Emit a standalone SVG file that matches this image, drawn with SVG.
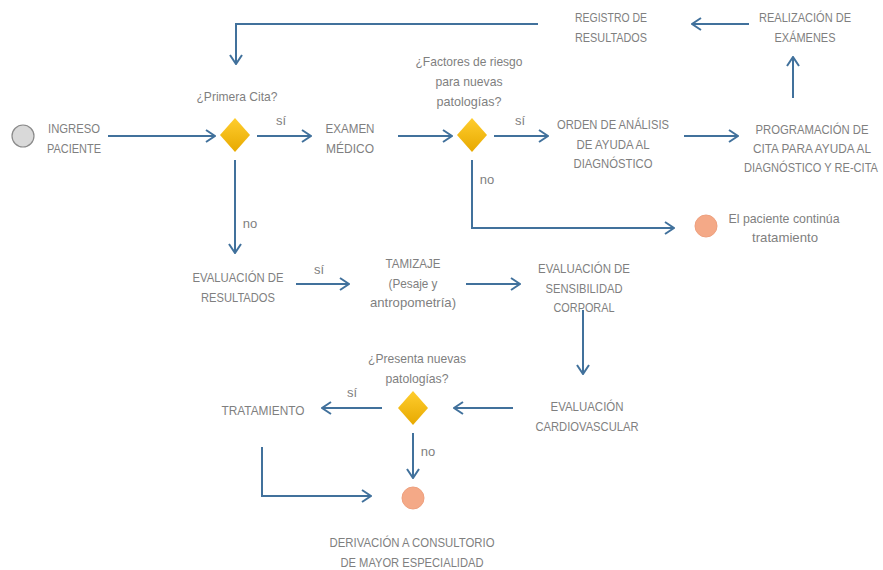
<svg xmlns="http://www.w3.org/2000/svg" width="883" height="570" viewBox="0 0 883 570">
<style>
text{font-family:"Liberation Sans",Arial,sans-serif;font-size:13px;fill:#7f7f7f;text-anchor:middle}
.c{fill:none;stroke:#41719c;stroke-width:2}
.d{fill:url(#g);stroke:none}
.o{fill:#f4a987;stroke:#eea07e;stroke-width:1}
</style>
<defs>
<linearGradient id="g" x1="0" y1="0" x2="0" y2="1"><stop offset="0" stop-color="#ffcd2e"/><stop offset="1" stop-color="#e7a900"/></linearGradient>
<marker id="a" viewBox="0 0 12 14" refX="11" refY="7" markerWidth="12" markerHeight="14" markerUnits="userSpaceOnUse" orient="auto"><path d="M2,1 L11,7 L2,13" fill="none" stroke="#41719c" stroke-width="2"/></marker>
</defs>
<g id="connectors">
<path class="c" marker-end="url(#a)" d="M108,136 H215"/>
<path class="c" marker-end="url(#a)" d="M257,136 H311"/>
<path class="c" marker-end="url(#a)" d="M398,136 H452"/>
<path class="c" marker-end="url(#a)" d="M494,136 H548"/>
<path class="c" marker-end="url(#a)" d="M684,136 H738"/>
<path class="c" marker-end="url(#a)" d="M793,98 V57"/>
<path class="c" marker-end="url(#a)" d="M749,24 H692"/>
<path class="c" marker-end="url(#a)" d="M538,24 H236 V64"/>
<path class="c" marker-end="url(#a)" d="M472,160 V228 H674"/>
<path class="c" marker-end="url(#a)" d="M235,160 V253"/>
<path class="c" marker-end="url(#a)" d="M296,284 H349"/>
<path class="c" marker-end="url(#a)" d="M466,284 H520"/>
<path class="c" marker-end="url(#a)" d="M583,310 V374"/>
<path class="c" marker-end="url(#a)" d="M513,408 H454"/>
<path class="c" marker-end="url(#a)" d="M382,408 H322"/>
<path class="c" marker-end="url(#a)" d="M413,433 V478"/>
<path class="c" marker-end="url(#a)" d="M262,447 V496 H371"/>
<text x="281" y="125">sí</text>
<text x="520" y="125">sí</text>
<text x="487" y="184">no</text>
<text x="250" y="228">no</text>
<text x="319" y="274">sí</text>
<text x="352" y="397">sí</text>
<text x="428" y="456">no</text>
</g>
<g id="start"><circle cx="23" cy="136" r="11" fill="#d9d9d9" stroke="#8a8a8a" stroke-width="1.2"/></g>
<g id="ingreso"><text x="74" y="133" textLength="52" lengthAdjust="spacingAndGlyphs">INGRESO</text><text x="74" y="153" textLength="54" lengthAdjust="spacingAndGlyphs">PACIENTE</text></g>
<g id="d1"><path class="d" d="M235,118 L250,135 L235,152 L220,135 Z"/><text x="237" y="101" textLength="81" lengthAdjust="spacingAndGlyphs">¿Primera Cita?</text></g>
<g id="examen"><text x="350" y="133" textLength="49" lengthAdjust="spacingAndGlyphs">EXAMEN</text><text x="350" y="153" textLength="48" lengthAdjust="spacingAndGlyphs">MÉDICO</text></g>
<g id="d2"><path class="d" d="M472,118 L487,135 L472,152 L457,135 Z"/><text x="469" y="66" textLength="107" lengthAdjust="spacingAndGlyphs">¿Factores de riesgo</text><text x="469" y="86" textLength="67" lengthAdjust="spacingAndGlyphs">para nuevas</text><text x="469" y="106" textLength="65" lengthAdjust="spacingAndGlyphs">patologías?</text></g>
<g id="orden"><text x="613" y="129" textLength="112" lengthAdjust="spacingAndGlyphs">ORDEN DE ANÁLISIS</text><text x="613" y="149" textLength="73" lengthAdjust="spacingAndGlyphs">DE AYUDA AL</text><text x="613" y="168" textLength="79" lengthAdjust="spacingAndGlyphs">DIAGNÓSTICO</text></g>
<g id="programacion"><text x="812" y="134" textLength="113" lengthAdjust="spacingAndGlyphs">PROGRAMACIÓN DE</text><text x="812" y="153" textLength="118" lengthAdjust="spacingAndGlyphs">CITA PARA AYUDA AL</text><text x="811" y="172" textLength="134" lengthAdjust="spacingAndGlyphs">DIAGNÓSTICO Y RE-CITA</text></g>
<g id="realizacion"><text x="805" y="22" textLength="92" lengthAdjust="spacingAndGlyphs">REALIZACIÓN DE</text><text x="805" y="42" textLength="61" lengthAdjust="spacingAndGlyphs">EXÁMENES</text></g>
<g id="registro"><text x="611" y="22" textLength="72" lengthAdjust="spacingAndGlyphs">REGISTRO DE</text><text x="611" y="42" textLength="72" lengthAdjust="spacingAndGlyphs">RESULTADOS</text></g>
<g id="continua"><circle class="o" cx="706" cy="226" r="11"/><text x="784" y="223" textLength="111" lengthAdjust="spacingAndGlyphs">El paciente continúa</text><text x="785" y="242" textLength="66" lengthAdjust="spacingAndGlyphs">tratamiento</text></g>
<g id="evalres"><text x="238" y="282" textLength="91" lengthAdjust="spacingAndGlyphs">EVALUACIÓN DE</text><text x="238" y="302" textLength="74" lengthAdjust="spacingAndGlyphs">RESULTADOS</text></g>
<g id="tamizaje"><text x="413" y="268" textLength="55" lengthAdjust="spacingAndGlyphs">TAMIZAJE</text><text x="413" y="288" textLength="49" lengthAdjust="spacingAndGlyphs">(Pesaje y</text><text x="413" y="307" textLength="86" lengthAdjust="spacingAndGlyphs">antropometría)</text></g>
<g id="sensibilidad"><text x="584" y="273" textLength="92" lengthAdjust="spacingAndGlyphs">EVALUACIÓN DE</text><text x="584" y="293" textLength="77" lengthAdjust="spacingAndGlyphs">SENSIBILIDAD</text><text x="584" y="312" textLength="61" lengthAdjust="spacingAndGlyphs">CORPORAL</text></g>
<g id="cardio"><text x="587" y="411" textLength="73" lengthAdjust="spacingAndGlyphs">EVALUACIÓN</text><text x="587" y="431" textLength="103" lengthAdjust="spacingAndGlyphs">CARDIOVASCULAR</text></g>
<g id="d3"><path class="d" d="M413,391 L428,408 L413,425 L398,408 Z"/><text x="417" y="363" textLength="98" lengthAdjust="spacingAndGlyphs">¿Presenta nuevas</text><text x="417" y="383" textLength="63" lengthAdjust="spacingAndGlyphs">patologías?</text></g>
<g id="tratamiento"><text x="263" y="415" textLength="83" lengthAdjust="spacingAndGlyphs">TRATAMIENTO</text></g>
<g id="derivacion"><circle class="o" cx="413" cy="498" r="11"/><text x="412" y="547" textLength="165" lengthAdjust="spacingAndGlyphs">DERIVACIÓN A CONSULTORIO</text><text x="412" y="567" textLength="143" lengthAdjust="spacingAndGlyphs">DE MAYOR ESPECIALIDAD</text></g>
</svg>
